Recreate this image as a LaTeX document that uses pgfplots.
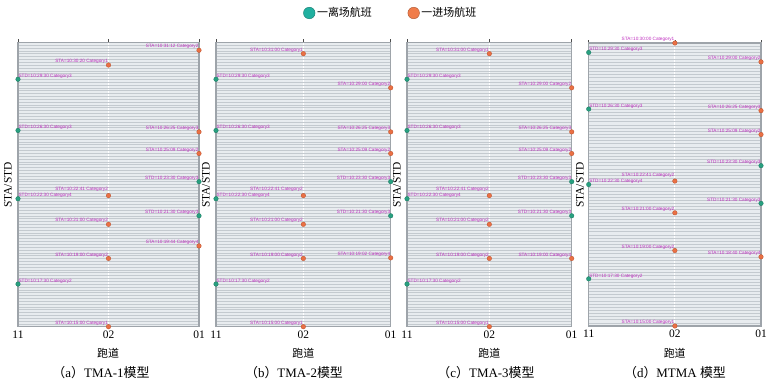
\documentclass[border=0pt]{standalone}
\usepackage{pgfplots}
\pgfplotsset{compat=1.18}
\usepackage{pgfplotstable}
\usepackage{fontspec}
\setmainfont{Liberation Serif}
\newfontfamily\cjk{Noto Sans CJK SC}
\newfontfamily\labf{Liberation Sans}
\definecolor{bg}{RGB}{232,236,239}
\definecolor{gridc}{RGB}{196,202,207}
\definecolor{axc}{RGB}{158,164,170}
\definecolor{teal1}{RGB}{40,160,128}
\definecolor{teal2}{RGB}{25,120,95}
\definecolor{ora1}{RGB}{234,112,68}
\definecolor{ora2}{RGB}{185,80,45}
\definecolor{legteal}{RGB}{32,176,160}
\definecolor{legora}{RGB}{240,124,74}
\definecolor{labc}{RGB}{190,45,190}

% y: seconds after 10:15:00
\pgfplotstableread[col sep=comma,row sep=\\]{
x,y,l\\
0,870,STD=10:29:30 Category3\\
0,690,STD=10:26:30 Category3\\
0,450,STD=10:22:30 Category4\\
0,150,STD=10:17:30 Category2\\
}\depL
\pgfplotstableread[col sep=comma,row sep=\\]{
x,y,l\\
2,510,STD=10:23:30 Category3\\
2,390,STD=10:21:30 Category3\\
}\depR
% arrival whose label is lifted to clear a neighbour (all panels)
\pgfplotstableread[col sep=comma,row sep=\\]{
x,y,l\\
1,461,STA=10:22:41 Category2\\
}\arrLift
\pgfplotstableread[col sep=comma,row sep=\\]{
x,y,l\\
2,972,STA=10:31:12 Category2\\
1,920,STA=10:30:20 Category1\\
2,685,STA=10:26:25 Category3\\
2,609,STA=10:25:09 Category2\\
1,360,STA=10:21:00 Category2\\
2,284,STA=10:19:44 Category4\\
1,240,STA=10:19:00 Category2\\
1,0,STA=10:15:00 Category1\\
}\arrA
\pgfplotstableread[col sep=comma,row sep=\\]{
x,y,l\\
1,960,STA=10:31:00 Category1\\
2,840,STA=10:29:00 Category2\\
2,685,STA=10:26:25 Category3\\
2,609,STA=10:25:09 Category2\\
1,360,STA=10:21:00 Category2\\
2,242,STA=10:19:02 Category4\\
1,240,STA=10:19:00 Category2\\
1,0,STA=10:15:00 Category1\\
}\arrB
\pgfplotstableread[col sep=comma,row sep=\\]{
x,y,l\\
1,960,STA=10:31:00 Category1\\
2,840,STA=10:29:00 Category2\\
2,685,STA=10:26:25 Category3\\
2,609,STA=10:25:09 Category2\\
1,360,STA=10:21:00 Category2\\
2,240,STA=10:19:00 Category4\\
1,240,STA=10:19:00 Category2\\
1,0,STA=10:15:00 Category1\\
}\arrC
\pgfplotstableread[col sep=comma,row sep=\\]{
x,y,l\\
1,900,STA=10:30:00 Category1\\
2,840,STA=10:29:00 Category2\\
2,685,STA=10:26:25 Category3\\
2,609,STA=10:25:09 Category2\\
1,360,STA=10:21:00 Category2\\
2,220,STA=10:18:40 Category4\\
1,240,STA=10:19:00 Category2\\
1,0,STA=10:15:00 Category1\\
}\arrD

\pgfplotsset{
  panel/.style={
    scale only axis, anchor=south west, clip=false,
    xmin=0, xmax=2, ymin=0,
    xtick={0,1,2}, xticklabels={\mbox{11},\mbox{02},\mbox{01}},
    xtick pos=right, xticklabel pos=left, tick align=outside,
    major tick length=3bp,
    xtick style={draw=black!70, line width=0.6bp},
    ytick={0,10,...,1000}, yticklabels={}, ytick style={draw=none},
    ymajorgrids, xmajorgrids,
    y grid style={gridc, line width=0.45bp},
    x grid style={white, line width=1bp},
    axis background/.style={fill=bg},
    axis line style={axc, line width=1.2bp},
    xticklabel style={font=\fontsize{11.5}{12}\selectfont, inner sep=1bp},
  },
  lbl/.style 2 args={nodes near coords, point meta=explicit symbolic,
    every node near coord/.append style={font=\labf\fontsize{4.7}{5}\selectfont, text=labc, inner sep=0.4bp, anchor=#1, yshift=#2}},
  dep/.style={only marks, mark=*, mark size=2.3bp, mark options={fill=teal1, draw=teal2, line width=0.3bp}, forget plot},
  arr/.style={only marks, mark=*, mark size=2.3bp, mark options={fill=ora1, draw=ora2, line width=0.3bp}, forget plot},
}

\newcommand{\panelplots}[1]{%
    \addplot[dep, lbl={south west}{0.3bp}] table[x=x,y=y,meta=l]{\depL};
    \addplot[dep, lbl={south east}{0.8bp}] table[x=x,y=y,meta=l]{\depR};
    \addplot[arr, lbl={south east}{0.8bp}] table[x=x,y=y,meta=l]{#1};
    \addplot[arr, lbl={south east}{3.2bp}] table[x=x,y=y,meta=l]{\arrLift};}
\newcommand{\panel}[6]{%
  \begin{axis}[panel, at={(#1bp,#2bp)}, width=#3bp, height=#4bp, ymax=#5]
    \panelplots{#6}
  \end{axis}}

\begin{document}
\begin{tikzpicture}[x=1bp,y=1bp]
\path[use as bounding box] (0,0) rectangle (773,385);

\begin{axis}[panel, at={(18bp,58.3bp)}, width=181bp, height=284.4bp, ymax=1000,
  legend style={at={(axis description cs:2.06,1.103)}, anchor=center, draw=none, fill=none,
    legend columns=2, font=\cjk\fontsize{11}{12}\selectfont,
    /tikz/every even column/.append style={column sep=34bp}},
  legend cell align=left]
  \addlegendimage{only marks, mark=*, mark size=5.8bp, mark options={fill=legteal, draw=legteal!70!black, line width=0.4bp}}
  \addlegendentry{一离场航班}
  \addlegendimage{only marks, mark=*, mark size=5.8bp, mark options={fill=legora, draw=legora!70!black, line width=0.4bp}}
  \addlegendentry{一进场航班}
  \panelplots{\arrA}
\end{axis}
\panel{216}{58.3}{174.7}{284.4}{1000}{\arrB}
\panel{407}{58.3}{164.7}{284.4}{1000}{\arrC}
\panel{588.7}{59}{172.3}{283}{900}{\arrD}

\foreach \xx in {8,206,397,580} {
  \node[rotate=90, font=\fontsize{11.5}{12}\selectfont] at (\xx,200) {STA/STD};
}
\foreach \xx in {108,303.3,489.3,674.7} {
  \node[font=\cjk\fontsize{11}{12}\selectfont] at (\xx,32) {跑道};
}
\node[font=\fontsize{13}{14}\selectfont] at (101,12) {{\cjk （}a{\cjk ）}TMA-1{\cjk 模型}};
\node[font=\fontsize{13}{14}\selectfont] at (294,12) {{\cjk （}b{\cjk ）}TMA-2{\cjk 模型}};
\node[font=\fontsize{13}{14}\selectfont] at (486,12) {{\cjk （}c{\cjk ）}TMA-3{\cjk 模型}};
\node[font=\fontsize{13}{14}\selectfont] at (675,12) {{\cjk （}d{\cjk ）}MTMA {\cjk 模型}};
\end{tikzpicture}
\end{document}
